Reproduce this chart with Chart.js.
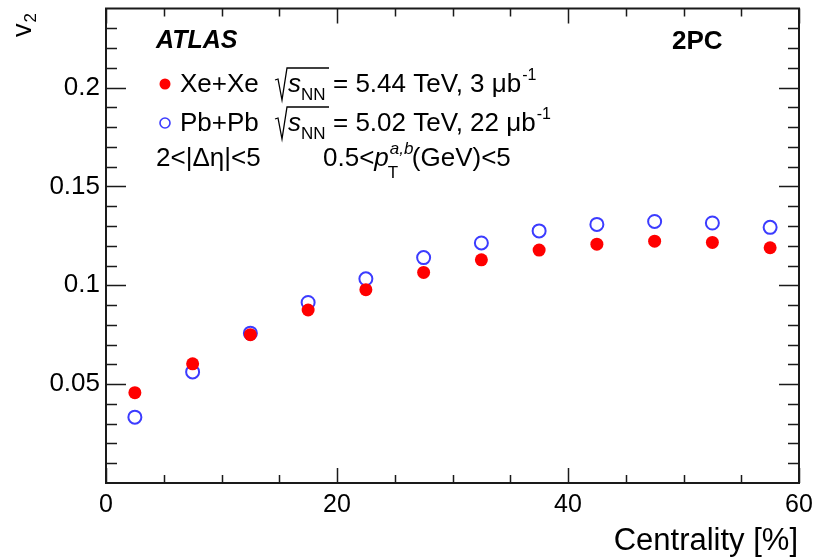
<!DOCTYPE html>
<html>
<head>
<meta charset="utf-8">
<script src="https://cdn.jsdelivr.net/npm/chart.js@4"></script>
<style>
  html, body { margin: 0; padding: 0; background: #fff; }
  canvas { display: block; }
</style>
</head>
<body>
<canvas id="v2chart" width="817" height="560"></canvas>
<script>
// centrality bin centres [%]
const centrality = [2.5, 7.5, 12.5, 17.5, 22.5, 27.5, 32.5, 37.5, 42.5, 47.5, 52.5, 57.5];
// v2
const xeXe = [0.0457, 0.0603, 0.0750, 0.0875, 0.0978, 0.1065, 0.1129, 0.1178, 0.1208, 0.1223, 0.1217, 0.1190];
const pbPb = [0.0333, 0.0562, 0.0758, 0.0913, 0.1033, 0.1140, 0.1214, 0.1275, 0.1308, 0.1323, 0.1315, 0.1293];

const xMajor = [0, 20, 40, 60];
const yMajor = [0.05, 0.1, 0.15, 0.2];

const font = '"Liberation Sans", Arial, Helvetica, sans-serif';
const axisColor = '#1a1a1a';
const red = '#ff0000';
const blue = '#3c3cff';

function points(ys) {
    return centrality.map((c, i) => ({ x: c, y: ys[i] }));
}

// draws ROOT style frame, inner ticks and the text block
const decor = {
    id: 'decor',
    afterDraw(chart) {
        const ctx = chart.ctx;
        const { left, right, top, bottom } = chart.chartArea;
        const xs = chart.scales.x;
        const ys = chart.scales.y;

        ctx.save();
        ctx.strokeStyle = axisColor;
        ctx.lineWidth = 2;
        ctx.strokeRect(left, top, right - left, bottom - top);

        ctx.lineWidth = 1.5;
        ctx.beginPath();
        for (let v = 0; v <= 60.001; v += 5) {
            const px = Math.round(xs.getPixelForValue(v)) + 0.5;
            const len = v % 20 === 0 ? 15 : 8;
            ctx.moveTo(px, bottom); ctx.lineTo(px, bottom - len);
            ctx.moveTo(px, top); ctx.lineTo(px, top + len);
        }
        for (let k = 1; k <= 23; k++) {
            const v = k / 100;
            const py = Math.round(ys.getPixelForValue(v)) + 0.5;
            const len = k % 5 === 0 ? 20 : 11;
            ctx.moveTo(left, py); ctx.lineTo(left + len, py);
            ctx.moveTo(right, py); ctx.lineTo(right - len, py);
        }
        ctx.stroke();

        ctx.fillStyle = '#000';
        ctx.textBaseline = 'alphabetic';

        // y title: v_2 rotated
        ctx.save();
        ctx.translate(31, 37);
        ctx.rotate(-Math.PI / 2);
        ctx.font = '27px ' + font;
        ctx.fillText('v', 0, 0);
        const vw = ctx.measureText('v').width;
        ctx.font = '17px ' + font;
        ctx.fillText('2', vw + 1, 5);
        ctx.restore();

        // x title
        ctx.font = '31px ' + font;
        ctx.textAlign = 'right';
        ctx.fillText('Centrality [%]', 798, 550);
        ctx.textAlign = 'left';

        ctx.font = 'italic bold 25px ' + font;
        ctx.fillText('ATLAS', 156, 48);
        ctx.font = 'bold 26px ' + font;
        ctx.fillText('2PC', 672, 49);

        // write a run of [text, font, dy] pieces
        function run(x, y, parts) {
            for (const [t, f, dy] of parts) {
                ctx.font = f + ' ' + font;
                ctx.fillText(t, x, y + (dy || 0));
                x += ctx.measureText(t).width;
            }
            return x;
        }
        function radical(x, y) {
            ctx.save();
            ctx.lineWidth = 1.3;
            ctx.strokeStyle = '#000';
            ctx.beginPath();
            ctx.moveTo(x, y - 12);
            ctx.lineTo(x + 3, y - 13);
            ctx.lineTo(x + 7, y + 8);
            ctx.lineTo(x + 12, y - 24);
            ctx.lineTo(x + 54, y - 24);
            ctx.stroke();
            ctx.restore();
            return x + 13;
        }
        function energyRow(y, name, rest) {
            let x = run(180, y, [[name, '26px']]);
            x = radical(275, y);
            x = run(x, y, [['s', 'italic 26px']]);
            run(x, y, [['NN', '17px', 8]]);
            x = run(333, y, [[rest, '26px']]);
            run(x + 1, y, [['-1', '16px', -12]]);
        }

        ctx.fillStyle = red;
        ctx.beginPath();
        ctx.arc(165, 84, 5.5, 0, Math.PI * 2);
        ctx.fill();
        ctx.strokeStyle = blue;
        ctx.lineWidth = 1.6;
        ctx.beginPath();
        ctx.arc(165, 123, 5, 0, Math.PI * 2);
        ctx.stroke();

        ctx.fillStyle = '#000';
        energyRow(92, 'Xe+Xe', '= 5.44 TeV, 3 \u03bcb');
        energyRow(131, 'Pb+Pb', '= 5.02 TeV, 22 \u03bcb');

        run(156, 166, [['2<|\u0394\u03b7|<5', '26px']]);
        let x = run(323, 166, [['0.5<', '26px'], ['p', 'italic 26px']]);
        run(x + 1, 166, [['a,b', 'italic 17px', -12]]);
        run(x - 1, 166, [['T', '17px', 12]]);
        run(x + 23, 166, [['(GeV)<5', '26px']]);

        ctx.restore();
    }
};

new Chart(document.getElementById('v2chart'), {
    type: 'scatter',
    data: {
        datasets: [
            {
                label: 'Xe+Xe',
                data: points(xeXe),
                pointRadius: 6.5,
                pointBackgroundColor: red,
                pointBorderWidth: 0
            },
            {
                label: 'Pb+Pb',
                data: points(pbPb),
                pointRadius: 6.5,
                pointBackgroundColor: 'rgba(0,0,0,0)',
                pointBorderColor: blue,
                pointBorderWidth: 2
            }
        ]
    },
    options: {
        responsive: false,
        animation: false,
        layout: { padding: { top: 7, right: 18, left: 0, bottom: 0 } },
        plugins: {
            legend: { display: false },
            tooltip: { enabled: false }
        },
        scales: {
            x: {
                type: 'linear',
                min: 0,
                max: 60,
                grid: { display: false, drawTicks: false },
                border: { display: false },
                afterBuildTicks: s => { s.ticks = xMajor.map(v => ({ value: v })); },
                afterFit: s => { s.height = 77; s.paddingLeft = 0; s.paddingRight = 0; },
                ticks: {
                    color: '#000',
                    padding: 7,
                    maxRotation: 0,
                    font: { family: font, size: 25 }
                }
            },
            y: {
                min: 0,
                max: 0.24,
                grid: { display: false, drawTicks: false },
                border: { display: false },
                afterBuildTicks: s => { s.ticks = yMajor.map(v => ({ value: v })); },
                afterFit: s => { s.width = 106; s.paddingTop = 0; s.paddingBottom = 0; },
                ticks: {
                    color: '#000',
                    padding: 6,
                    font: { family: font, size: 26 },
                    callback: v => String(+v.toFixed(2))
                }
            }
        }
    },
    plugins: [decor]
});
</script>
</body>
</html>
